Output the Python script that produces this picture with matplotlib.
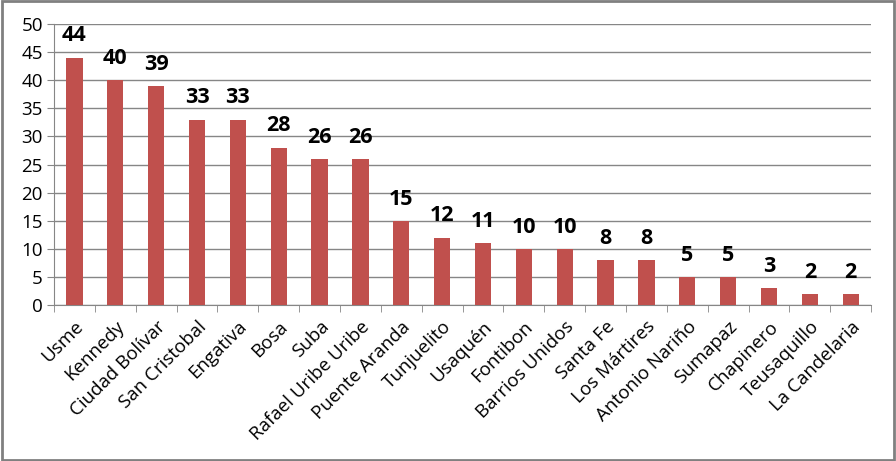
import matplotlib.pyplot as plt
import numpy as np
from matplotlib.patches import Rectangle

localidades = ["Usme", "Kennedy", "Ciudad Bolívar", "San Cristobal", "Engativa", "Bosa",
               "Suba", "Rafael Uribe Uribe", "Puente Aranda", "Tunjuelito", "Usaquén",
               "Fontibon", "Barrios Unidos", "Santa Fe", "Los Mártires", "Antonio Nariño",
               "Sumapaz", "Chapinero", "Teusaquillo", "La Candelaria"]
casos = [44, 40, 39, 33, 33, 28, 26, 26, 15, 12, 11, 10, 10, 8, 8, 5, 5, 3, 2, 2]
y_ticks = [0, 5, 10, 15, 20, 25, 30, 35, 40, 45, 50]

plt.rcParams['font.family'] = ['Open Sans', 'DejaVu Sans']

fig = plt.figure(figsize=(8.96, 4.61), dpi=100)
ax = fig.add_axes([0.0603, 0.338, 0.912, 0.61])

x = np.arange(len(casos))
ax.bar(x, casos, width=0.4, color="#C0504D", zorder=3)
for xi, v in zip(x, casos):
    ax.text(xi, v + 2.0, str(v), ha="center", va="bottom", fontsize=15.5, fontweight="bold")

ax.set_xlim(-0.5, len(casos) - 0.5)
ax.set_ylim(0, 50)
ax.set_yticks(y_ticks)
ax.yaxis.grid(True, color="#868686", linewidth=1, zorder=0)
ax.tick_params(axis="y", labelsize=13.5, length=5, color="#868686", pad=3)

ax.set_xticks(x)
ax.set_xticklabels(localidades, rotation=45, ha="right", rotation_mode="anchor", fontsize=13.5)
ax.tick_params(axis="x", length=0, pad=9)
ax.set_xticks(np.arange(-0.5, len(casos)), minor=True)
ax.tick_params(axis="x", which="minor", length=5, color="#868686")

for side in ["top", "right"]:
    ax.spines[side].set_visible(False)
ax.spines["left"].set_color("#868686")
ax.spines["bottom"].set_color("#868686")

fig.patches.append(Rectangle((0.002, 0.003), 0.996, 0.994, transform=fig.transFigure,
                             fill=False, edgecolor="#808080", linewidth=2))

fig.savefig("out.png", dpi=100)
